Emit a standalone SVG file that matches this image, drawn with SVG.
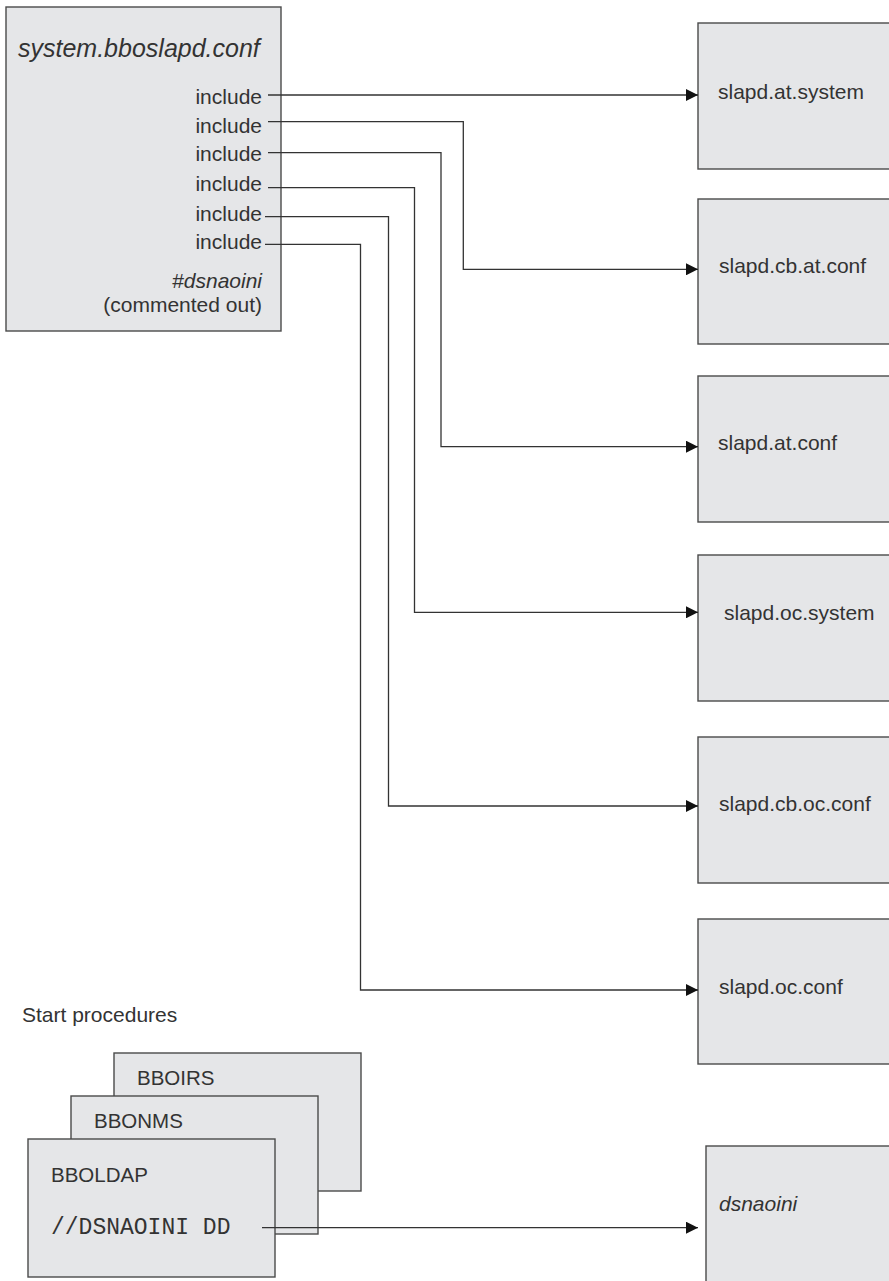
<svg xmlns="http://www.w3.org/2000/svg" width="889" height="1281" viewBox="0 0 889 1281">
<defs>
<style>
.box{fill:#e5e6e8;stroke:#4a4a4a;stroke-width:1.4}
.t{font-family:"Liberation Sans",Arial,sans-serif;font-size:21px;fill:#333}
.it{font-style:italic}
.mono{font-family:"Liberation Mono","Courier New",monospace;font-size:23px;fill:#333}
.conn{fill:none;stroke:#333;stroke-width:1.3}
</style>
<marker id="arr" viewBox="0 0 12 12" refX="12" refY="6" markerWidth="12" markerHeight="12" markerUnits="userSpaceOnUse" orient="auto">
<path d="M0,0 L12,6 L0,12 Z" fill="#111"/>
</marker>
</defs>
<rect width="889" height="1281" fill="#fff"/>

<g id="main">
<rect class="box" x="6" y="7" width="275" height="324"/>
<text class="t it" x="18" y="57" style="font-size:25px">system.bboslapd.conf</text>
<text class="t" x="262" y="104" text-anchor="end">include</text>
<text class="t" x="262" y="133" text-anchor="end">include</text>
<text class="t" x="262" y="161" text-anchor="end">include</text>
<text class="t" x="262" y="191" text-anchor="end">include</text>
<text class="t" x="262" y="221" text-anchor="end">include</text>
<text class="t" x="262" y="249" text-anchor="end">include</text>
<text class="t it" x="262" y="288" text-anchor="end">#dsnaoini</text>
<text class="t" x="262" y="312" text-anchor="end">(commented out)</text>
</g>

<g id="n1"><rect class="box" x="698" y="23" width="200" height="146"/><text class="t" x="718" y="99">slapd.at.system</text></g>
<g id="n2"><rect class="box" x="698" y="199" width="200" height="145"/><text class="t" x="719" y="273">slapd.cb.at.conf</text></g>
<g id="n3"><rect class="box" x="698" y="376" width="200" height="146"/><text class="t" x="718" y="450">slapd.at.conf</text></g>
<g id="n4"><rect class="box" x="698" y="555" width="200" height="146"/><text class="t" x="724" y="620">slapd.oc.system</text></g>
<g id="n5"><rect class="box" x="698" y="737" width="200" height="146"/><text class="t" x="719" y="811">slapd.cb.oc.conf</text></g>
<g id="n6"><rect class="box" x="698" y="919" width="200" height="145"/><text class="t" x="719" y="994">slapd.oc.conf</text></g>
<g id="n7"><rect class="box" x="706" y="1146" width="200" height="150"/><text class="t it" x="719" y="1211">dsnaoini</text></g>

<text id="startlabel" class="t" x="22" y="1022">Start procedures</text>

<g id="bboirs"><rect class="box" x="114" y="1053" width="247" height="138"/><text class="t" x="137" y="1085" style="font-size:20.5px">BBOIRS</text></g>
<g id="bbonms"><rect class="box" x="71" y="1096" width="247" height="138"/><text class="t" x="94" y="1128" style="font-size:20.5px">BBONMS</text></g>
<g id="bboldap"><rect class="box" x="28" y="1139" width="247" height="138"/><text class="t" x="51" y="1182" style="font-size:20.5px">BBOLDAP</text><text class="mono" x="51" y="1234">//DSNAOINI DD</text></g>

<g id="connectors">
<path class="conn" marker-end="url(#arr)" d="M268,95 H698"/>
<path class="conn" marker-end="url(#arr)" d="M268,121.7 H463.3 V269.3 H698"/>
<path class="conn" marker-end="url(#arr)" d="M268,152.7 H441 V446.7 H698"/>
<path class="conn" marker-end="url(#arr)" d="M268,187.7 H414.5 V612.3 H698"/>
<path class="conn" marker-end="url(#arr)" d="M265,216.7 H388.5 V806 H698"/>
<path class="conn" marker-end="url(#arr)" d="M265,244.3 H360.5 V990 H698"/>
<path class="conn" marker-end="url(#arr)" d="M262,1227.7 H698"/>
</g>
</svg>
